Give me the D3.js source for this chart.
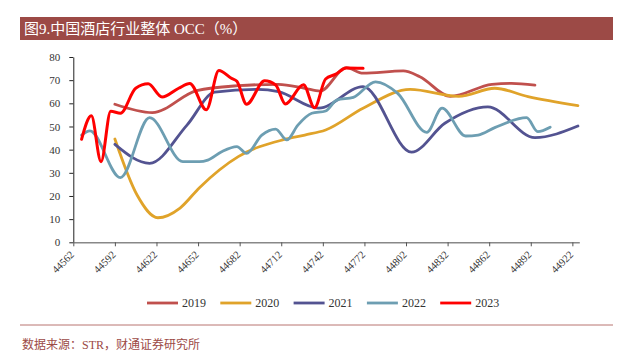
<!DOCTYPE html>
<html>
<head>
<meta charset="utf-8">
<script src="https://cdn.jsdelivr.net/npm/d3@7"></script>
<style>
  body { margin: 0; background: #fff; }
  svg { display: block; }
</style>
</head>
<body>
<svg id="chart" width="633" height="352"></svg>
<script>
// 数据（x 为 Excel 日期序列号，y 为 OCC %）
const years = ['2019', '2020', '2021', '2022', '2023'];
const colors = ['#C0504D', '#E0A32A', '#535391', '#6D9EB2', '#FF0000'];

const day2019 = [44592, 44619, 44651, 44681, 44710, 44729, 44740, 44759, 44771, 44800, 44812, 44834, 44864, 44878, 44895];
const occ2019 = [59.6, 56, 65.5, 67.6, 68.2, 66.5, 65.3, 75.4, 73, 74, 71.5, 63, 68.2, 68.6, 67.9];

const day2020 = [44592, 44608, 44623, 44639, 44653, 44681, 44713, 44729, 44744, 44771, 44805, 44840, 44866, 44890, 44926];
const occ2020 = [44.6, 20.4, 10.6, 14.8, 23.6, 37, 44.2, 46.3, 48.5, 57.9, 66, 63, 66.5, 62.9, 59];

const day2021 = [44592, 44617, 44644, 44664, 44695, 44710, 44739, 44771, 44806, 44830, 44861, 44895, 44926];
const occ2021 = [42.3, 34.1, 50.6, 64.8, 66, 65, 57.9, 67.2, 38.9, 51.4, 58.5, 45.2, 50.2];

const day2022 = [44568, 44574, 44596, 44617, 44641, 44653, 44659, 44669, 44680, 44687, 44698, 44708, 44716, 44724, 44734, 44744, 44752, 44764, 44780, 44796, 44817, 44828, 44845, 44854, 44866, 44889, 44897, 44906];
const occ2022 = [46.3, 48.1, 27.9, 53.8, 34.8, 34.8, 35.5, 39.1, 41.3, 38.4, 46.3, 48.9, 44.2, 50.6, 55.7, 56.7, 61.4, 62.6, 69.3, 64.3, 47.5, 57.9, 45.9, 46.3, 49.5, 53.8, 47.8, 49.7];

const day2023 = [44568, 44575, 44582, 44589, 44596, 44607, 44616, 44626, 44638, 44646, 44658, 44667, 44676, 44680, 44687, 44700, 44708, 44715, 44728, 44736, 44744, 44751, 44759, 44771];
const occ2023 = [44.5, 54.6, 34.8, 56.6, 55.7, 66.5, 68.4, 62.7, 66.5, 68.6, 57.2, 74.2, 70.8, 69.5, 59.6, 69.7, 67.9, 59.7, 68, 58.1, 70.5, 72.5, 75.3, 75.1];

const xTicks = [44562, 44592, 44622, 44652, 44682, 44712, 44742, 44772, 44802, 44832, 44862, 44892, 44922];
const yTicks = [0, 10, 20, 30, 40, 50, 60, 70, 80];

const series = [
  [day2019, occ2019],
  [day2020, occ2020],
  [day2021, occ2021],
  [day2022, occ2022],
  [day2023, occ2023]
].map(([d, v], i) => ({
  name: years[i],
  color: colors[i],
  values: d.map((x, j) => ({x: x, y: v[j]}))
}));

const svg = d3.select('#chart');
const serif = '"Liberation Serif", "Noto Sans CJK SC", serif';

// 标题栏
svg.append('rect')
  .attr('x', 20).attr('y', 17)
  .attr('width', 593).attr('height', 23)
  .attr('fill', '#9C4A46');
svg.append('text')
  .attr('x', 24).attr('y', 34)
  .attr('fill', '#fff')
  .attr('font-family', serif)
  .attr('font-size', 15)
  .text('图9.中国酒店行业整体 OCC（%）');

// 比例尺
const x = d3.scaleLinear().domain([44562, 44927]).range([73.3, 579.3]);
const y = d3.scaleLinear().domain([0, 80]).range([242.3, 57]);

// y轴
const yAxis = svg.append('g')
  .attr('transform', `translate(${x(44562)},0)`)
  .call(d3.axisLeft(y).tickValues(yTicks).tickSize(4).tickPadding(9).tickSizeOuter(0));
yAxis.select('.domain').attr('stroke', '#222');
yAxis.selectAll('.tick line').attr('stroke', '#222');
yAxis.selectAll('text')
  .attr('font-family', serif)
  .attr('font-size', 11)
  .attr('fill', '#333');

// x轴
const xAxis = svg.append('g')
  .attr('transform', `translate(0,${y(0)})`)
  .call(d3.axisBottom(x).tickValues(xTicks).tickSize(4).tickSizeOuter(0).tickFormat(d3.format('d')));
xAxis.select('.domain').attr('stroke', '#888').attr('stroke-width', 1.5);
xAxis.selectAll('.tick line').attr('stroke', '#555');
xAxis.selectAll('text')
  .attr('font-family', serif)
  .attr('font-size', 10.5)
  .attr('fill', '#333')
  .attr('text-anchor', 'end')
  .attr('dy', 0)
  .attr('y', 0)
  .attr('transform', 'translate(1,13) rotate(-45)');

// 折线
const line = d3.line()
  .x(d => x(d.x))
  .y(d => y(d.y))
  .curve(d3.curveMonotoneX);

svg.append('g')
  .attr('fill', 'none')
  .attr('stroke-linejoin', 'round')
  .attr('stroke-linecap', 'round')
  .selectAll('path')
  .data(series)
  .join('path')
  .attr('stroke', d => d.color)
  .attr('stroke-width', d => d.name === '2023' ? 3 : 2.8)
  .attr('d', d => line(d.values));

// 图例
const legend = svg.append('g')
  .selectAll('g')
  .data(series)
  .join('g')
  .attr('transform', (d, i) => `translate(${147 + i * 73.3},303)`);
legend.append('line')
  .attr('x1', 0).attr('x2', 31)
  .attr('stroke', d => d.color)
  .attr('stroke-width', 2.8);
legend.append('text')
  .attr('x', 35).attr('dy', '0.35em')
  .attr('font-family', serif)
  .attr('font-size', 12)
  .attr('fill', '#333')
  .text(d => d.name);

// 底部分隔线和数据来源
svg.append('line')
  .attr('x1', 20).attr('x2', 613)
  .attr('y1', 325).attr('y2', 325)
  .attr('stroke', '#B87470')
  .attr('stroke-width', 1);
svg.append('text')
  .attr('x', 22).attr('y', 349)
  .attr('fill', '#9C4A46')
  .attr('font-family', serif)
  .attr('font-size', 12)
  .text('数据来源：STR，财通证券研究所');
</script>
</body>
</html>
